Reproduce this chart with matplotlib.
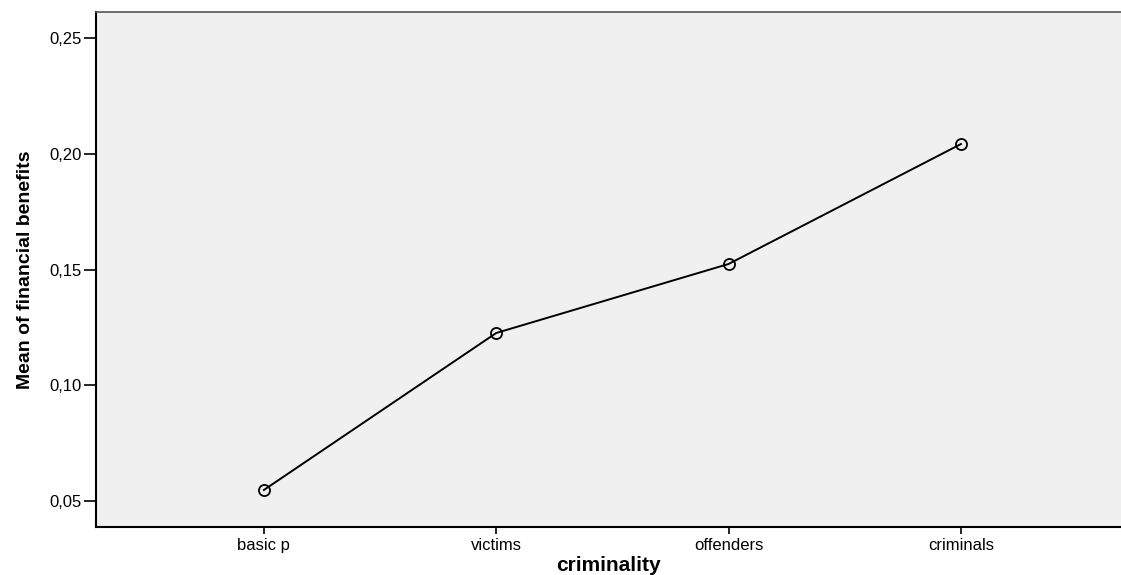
import matplotlib
matplotlib.use("Agg")
import matplotlib.pyplot as plt
from matplotlib.ticker import FuncFormatter

# data
categories = ["basic p", "victims", "offenders", "criminals"]
means = [0.0548, 0.1226, 0.1524, 0.2042]
y_ticks = [0.05, 0.10, 0.15, 0.20, 0.25]

plt.rcParams['font.family'] = ['Liberation Sans', 'DejaVu Sans']

fig = plt.figure(figsize=(11.21, 5.75), dpi=100)
# right border of the plot sits outside the picture
ax = fig.add_axes([0.0856, 0.0835, 1.0 - 0.0856, 0.8955])
ax.set_facecolor('#f0f0f0')

x = list(range(len(categories)))
ax.plot(x, means, color='black', lw=1.4, marker='o', markersize=8,
        markerfacecolor='none', markeredgecolor='black', markeredgewidth=1.3)

ax.set_xlim(-0.723, 3.689)
ax.set_ylim(0.0388, 0.2612)
ax.set_xticks(x)
ax.set_xticklabels(categories, fontsize=12)
ax.set_yticks(y_ticks)
ax.yaxis.set_major_formatter(FuncFormatter(lambda v, p: f"{v:.2f}".replace('.', ',')))
ax.tick_params(axis='y', labelsize=12, length=8.5, width=1.2, pad=2)
ax.tick_params(axis='x', length=5, width=1.2, pad=3)

for s in ['left', 'bottom']:
    ax.spines[s].set_linewidth(1.5)
    ax.spines[s].set_color('black')
ax.spines['top'].set_color('#555555')
ax.spines['top'].set_linewidth(1.2)
ax.spines['right'].set_visible(False)

ax.set_xlabel('criminality', fontsize=15, fontweight='bold', labelpad=2)
ax.set_ylabel('Mean of financial benefits', fontsize=14, fontweight='bold', labelpad=11)

fig.savefig('out.png', dpi=100)
